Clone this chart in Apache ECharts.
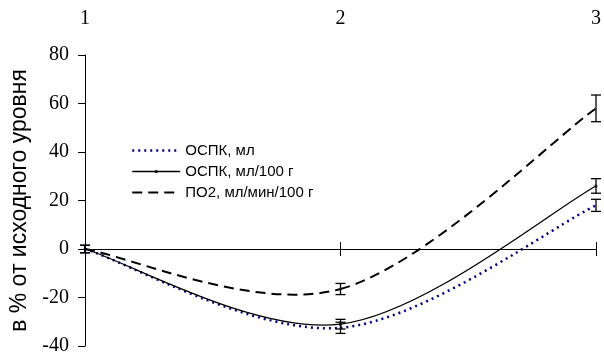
<!DOCTYPE html>
<html><head><meta charset="utf-8">
<script src="https://cdn.jsdelivr.net/npm/echarts@6/dist/echarts.min.js"></script>
<style>html,body{margin:0;padding:0;background:#fff}#c{width:604px;height:356px}</style>
</head><body><div id="c"></div>
<script>
const categories = ['1', '2', '3'];
const yTicks = [-40, -20, 0, 20, 40, 60, 80];
const nameOspkMl = 'ОСПК, мл';
const nameOspkMl100 = 'ОСПК, мл/100 г';
const namePo2 = 'ПО2, мл/мин/100 г';
const ospkMl = [0, -32.5, 18];
const ospkMlErr = [1.5, 2.3, 2.5];
const ospkMl100 = [0, -31, 26];
const ospkMl100Err = [1.5, 2, 3];
const po2 = [0, -16.5, 58];
const po2Err = [1.5, 2.3, 5.5];
const yAxisName = 'в % от исходного уровня';

const styleOspkMl = { color: '#000080', width: 2.5, type: [2, 4] };
const styleOspkMl100 = { color: '#000', width: 1.3, type: 'solid' };
const stylePo2 = { color: '#000', width: 2, type: [10, 6] };

function errRender(params, api) {
  const x = api.value(0), lo = api.value(1), hi = api.value(2);
  const t = api.coord([x, hi]), b = api.coord([x, lo]);
  const hw = 5;
  const st = { stroke: '#000', lineWidth: 1.3 };
  return { type: 'group', children: [
    { type: 'line', shape: { x1: t[0], y1: t[1], x2: b[0], y2: b[1] }, style: st },
    { type: 'line', shape: { x1: t[0] - hw, y1: t[1], x2: t[0] + hw, y2: t[1] }, style: st },
    { type: 'line', shape: { x1: b[0] - hw, y1: b[1], x2: b[0] + hw, y2: b[1] }, style: st }
  ]};
}
function errSeries(vals, errs) {
  return { type: 'custom', renderItem: errRender,
    data: vals.map((v, i) => [i, v - errs[i], v + errs[i]]),
    encode: { x: 0, y: [1, 2] }, z: 5, silent: true, clip: false };
}
// smoothed curve (Catmull-Rom style Bezier) through the data points
function curveSeries(vals, ls) {
  const n = vals.length;
  return { type: 'custom', silent: true, clip: false, z: 3,
    data: vals.map((v, i) => [i, v]), encode: { x: 0, y: 1 },
    renderItem: function (params, api) {
      const i = params.dataIndex;
      if (i >= n - 1) return null;
      const pt = k => api.coord([k, vals[k]]);
      const p0 = pt(Math.max(i - 1, 0)), p1 = pt(i), p2 = pt(i + 1), p3 = pt(Math.min(i + 2, n - 1));
      return { type: 'bezierCurve',
        shape: { x1: p1[0], y1: p1[1], x2: p2[0], y2: p2[1],
          cpx1: p1[0] + (p2[0] - p0[0]) / 6, cpy1: p1[1] + (p2[1] - p0[1]) / 6,
          cpx2: p2[0] - (p3[0] - p1[0]) / 6, cpy2: p2[1] - (p3[1] - p1[1]) / 6 },
        style: { stroke: ls.color, lineWidth: ls.width, fill: null,
          lineDash: Array.isArray(ls.type) ? ls.type : null } };
    } };
}
function markerSeries(vals) {
  return { type: 'scatter', data: vals.map((v, i) => [i, v]), symbol: 'circle', symbolSize: 3,
    itemStyle: { color: '#000' }, z: 4, silent: true };
}
function legendSeries(name, vals, ls, sym) {
  return { name: name, type: 'line', data: vals, symbol: sym ? 'circle' : 'none', symbolSize: 3,
    lineStyle: { color: ls.color, width: ls.width, type: ls.type, opacity: 0 },
    itemStyle: { color: ls.color, opacity: 0 }, silent: true, z: 1 };
}
const serif = 'Liberation Serif';
const sans = 'Liberation Sans';
const yMin = yTicks[0], yMax = yTicks[yTicks.length - 1];
const chart = echarts.init(document.getElementById('c'), null, { renderer: 'canvas' });
chart.setOption({
  animation: false,
  backgroundColor: '#fff',
  grid: { left: 85, right: 7, top: 55, bottom: 8, containLabel: false },
  legend: {
    data: [
      { name: nameOspkMl, itemStyle: { opacity: 0 }, lineStyle: Object.assign({ opacity: 1 }, styleOspkMl) },
      { name: nameOspkMl100, itemStyle: { opacity: 1, color: '#000' }, lineStyle: Object.assign({ opacity: 1 }, styleOspkMl100) },
      { name: namePo2, itemStyle: { opacity: 0 }, lineStyle: Object.assign({ opacity: 1 }, stylePo2) }
    ],
    orient: 'vertical', left: 131, top: 143, padding: 0,
    itemWidth: 48, itemHeight: 4, itemGap: 6,
    textStyle: { fontFamily: sans, fontSize: 15, color: '#000' }
  },
  xAxis: [
    { type: 'category', data: categories, boundaryGap: false, position: 'top',
      axisLine: { show: false, onZero: false },
      axisTick: { show: false },
      axisLabel: { show: true, margin: 26, fontFamily: serif, fontSize: 20, color: '#000' },
      splitLine: { show: false } },
    { type: 'category', data: categories, boundaryGap: false, position: 'bottom',
      axisLine: { onZero: true, lineStyle: { color: '#000', width: 1 } },
      axisTick: { show: true, length: 7, lineStyle: { color: '#000' } },
      axisLabel: { show: false }, splitLine: { show: false } },
    { type: 'category', data: categories, boundaryGap: false, position: 'top',
      axisLine: { onZero: true, lineStyle: { color: '#000', width: 1 } },
      axisTick: { show: true, length: 7, lineStyle: { color: '#000' } },
      axisLabel: { show: false }, splitLine: { show: false } }
  ],
  yAxis: [{
    type: 'value', min: yMin, max: yMax, interval: 20, position: 'left',
    name: yAxisName, nameLocation: 'middle', nameGap: 48, nameRotate: 90,
    nameTextStyle: { fontFamily: sans, fontSize: 23, color: '#000' },
    axisLine: { show: true, onZero: false, lineStyle: { color: '#000', width: 1 } },
    axisTick: { show: true, length: 7, lineStyle: { color: '#000' } },
    axisLabel: { margin: 16, fontFamily: serif, fontSize: 20, color: '#000' },
    splitLine: { show: false }
  }, {
    type: 'value', min: yMin, max: yMax, interval: 20, position: 'right',
    axisLine: { show: false, onZero: false }, axisTick: { show: false },
    axisLabel: { show: false }, splitLine: { show: false }
  }],
  series: [
    legendSeries(nameOspkMl, ospkMl, styleOspkMl, false),
    legendSeries(nameOspkMl100, ospkMl100, styleOspkMl100, true),
    legendSeries(namePo2, po2, stylePo2, false),
    curveSeries(ospkMl, styleOspkMl),
    curveSeries(ospkMl100, styleOspkMl100),
    curveSeries(po2, stylePo2),
    markerSeries(ospkMl100),
    errSeries(ospkMl, ospkMlErr),
    errSeries(ospkMl100, ospkMl100Err),
    errSeries(po2, po2Err)
  ]
});
</script></body></html>
